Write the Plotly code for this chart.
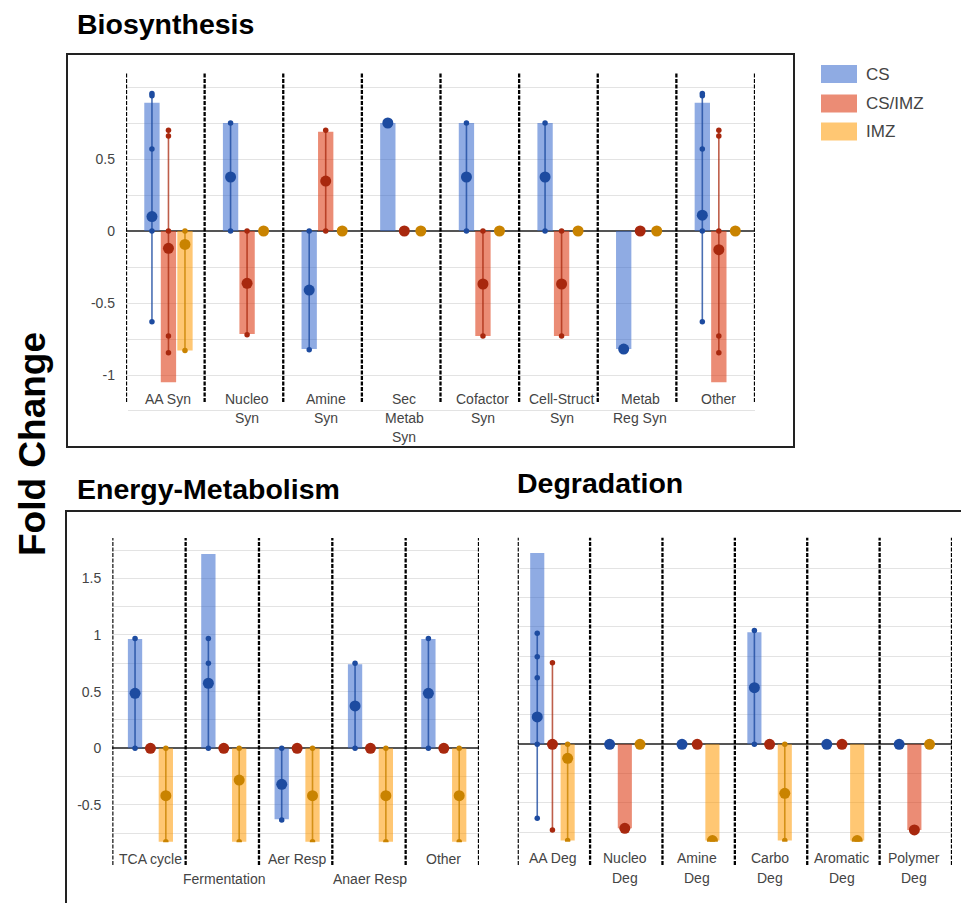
import plotly.graph_objects as go

# ---------------- DATA ----------------
SERIES = ["CS", "CS/IMZ", "IMZ"]

# Biosynthesis
BIO_CATS = ["AA Syn", "Nucleo\nSyn", "Amine\nSyn", "Sec\nMetab\nSyn", "Cofactor\nSyn",
            "Cell-Struct\nSyn", "Metab\nReg Syn", "Other"]
BIO_CS_BAR = [0.89, 0.75, -0.82, 0.75, 0.75, 0.75, -0.82, 0.89]
BIO_CS_MEAN = [0.10, 0.375, -0.41, 0.75, 0.375, 0.375, -0.82, 0.11]
BIO_CS_PTS = [[0.955, 0.94, 0.57, 0, -0.63], [0.75, 0], [0, -0.825], [0.75],
              [0.75, 0], [0.75, 0], [-0.82], [0.955, 0.94, 0.57, 0, -0.63]]
BIO_CSIMZ_BAR = [-1.05, -0.715, 0.69, 0, -0.73, -0.73, 0, -1.05]
BIO_CSIMZ_MEAN = [-0.12, -0.363, 0.347, 0, -0.368, -0.368, 0, -0.13]
BIO_CSIMZ_PTS = [[0.70, 0.66, 0, -0.73, -0.845], [0, -0.72], [0.70, 0], [0],
                 [0, -0.73], [0, -0.73], [0], [0.70, 0.66, 0, -0.73, -0.845]]
BIO_IMZ_BAR = [-0.83, 0, 0, 0, 0, 0, 0, 0]
BIO_IMZ_MEAN = [-0.093, 0, 0, 0, 0, 0, 0, 0]
BIO_IMZ_PTS = [[0, -0.83], [0], [0], [0], [0], [0], [0], [0]]
BIO_TICKVALS = [-1.25, -1.0, -0.75, -0.5, -0.25, 0, 0.25, 0.5, 0.75, 1.0]
BIO_TICKTEXT = ["", "-1", "", "-0.5", "", "0", "", "0.5", "", ""]

# Energy-Metabolism
EN_CATS = ["TCA cycle", "Fermentation", "Aer Resp", "Anaer Resp", "Other"]
EN_CS_BAR = [0.965, 1.715, -0.626, 0.741, 0.965]
EN_CS_MEAN = [0.485, 0.574, -0.318, 0.374, 0.485]
EN_CS_PTS = [[0.97, 0], [0.97, 0.75, 0], [0, -0.632], [0.75, 0], [0.97, 0]]
EN_CSIMZ_BAR = [0, 0, 0, 0, 0]
EN_CSIMZ_MEAN = [0, 0, 0, 0, 0]
EN_CSIMZ_PTS = [[0], [0], [0], [0], [0]]
EN_IMZ_BAR = [-0.825, -0.825, -0.825, -0.825, -0.825]
EN_IMZ_MEAN = [-0.418, -0.28, -0.418, -0.418, -0.418]
EN_IMZ_PTS = [[0, -0.825], [0, -0.825], [0, -0.825], [0, -0.825], [0, -0.825]]
EN_TICKVALS = [-0.75, -0.5, -0.25, 0, 0.25, 0.5, 0.75, 1.0, 1.25, 1.5, 1.75]
EN_TICKTEXT = ["", "-0.5", "", "0", "", "0.5", "", "1", "", "1.5", ""]

# Degradation
DEG_CATS = ["AA Deg", "Nucleo\nDeg", "Amine\nDeg", "Carbo\nDeg", "Aromatic\nDeg", "Polymer\nDeg"]
DEG_CS_BAR = [1.63, 0, 0, 0.955, 0, 0]
DEG_CS_MEAN = [0.233, 0, 0, 0.483, 0, 0]
DEG_CS_PTS = [[0.946, 0.747, 0.568, 0, -0.63], [0], [0], [0.969, 0], [0], [0]]
DEG_CSIMZ_BAR = [0, -0.716, 0, 0, 0, -0.73]
DEG_CSIMZ_MEAN = [0, -0.716, 0, 0, 0, -0.73]
DEG_CSIMZ_PTS = [[0.696, 0, -0.73], [-0.716], [0], [0], [0], [-0.73]]
DEG_IMZ_BAR = [-0.82, 0, -0.82, -0.82, -0.82, 0]
DEG_IMZ_MEAN = [-0.119, 0, -0.82, -0.418, -0.82, 0]
DEG_IMZ_PTS = [[0, -0.82], [0], [-0.82], [0, -0.82], [-0.82], [0]]
DEG_TICKVALS = [-0.75, -0.5, -0.25, 0, 0.25, 0.5, 0.75, 1.0, 1.25, 1.5]
DEG_TICKTEXT = ["", "", "", "", "", "", "", "", "", ""]

# ---------------- STYLE ----------------
W, H = 961, 903
FONT = "Liberation Sans, Arial, sans-serif"
BAR_COLORS = ["rgba(51,102,204,0.55)", "rgba(220,57,18,0.58)", "rgba(255,153,0,0.55)"]
DOT_COLORS = ["#1d4ba0", "#a8280e", "#c98300"]
LINE_COLORS = ["rgba(29,75,160,0.8)", "rgba(168,40,14,0.75)", "rgba(201,131,0,0.8)"]
OFFSETS = [-0.21, 0.0, 0.21]
BAR_W = 0.195
LABEL_SIZE = 14


def pxx(x):
    return x / W


def pyy(y):
    return 1 - y / H


panels = [
    dict(ax="", cats=BIO_CATS,
         bars=[BIO_CS_BAR, BIO_CSIMZ_BAR, BIO_IMZ_BAR],
         means=[BIO_CS_MEAN, BIO_CSIMZ_MEAN, BIO_IMZ_MEAN],
         pts=[BIO_CS_PTS, BIO_CSIMZ_PTS, BIO_IMZ_PTS],
         tv=BIO_TICKVALS, tt=BIO_TICKTEXT,
         xpx=(126, 755), ypx=(73, 412), yr=(-1.2569, 1.0972), shift=0.04,
         dash=(73, 402), label_rows=None, line_y=[399, 418, 437]),
    dict(ax="2", cats=EN_CATS,
         bars=[EN_CS_BAR, EN_CSIMZ_BAR, EN_IMZ_BAR],
         means=[EN_CS_MEAN, EN_CSIMZ_MEAN, EN_IMZ_MEAN],
         pts=[EN_CS_PTS, EN_CSIMZ_PTS, EN_IMZ_PTS],
         tv=EN_TICKVALS, tt=EN_TICKTEXT,
         xpx=(112.3, 479), ypx=(538, 842.3), yr=(-0.8297, 1.856), shift=0.02,
         dash=(538, 865), label_rows=[859, 879], line_y=[859, 879]),
    dict(ax="3", cats=DEG_CATS,
         bars=[DEG_CS_BAR, DEG_CSIMZ_BAR, DEG_IMZ_BAR],
         means=[DEG_CS_MEAN, DEG_CSIMZ_MEAN, DEG_IMZ_MEAN],
         pts=[DEG_CS_PTS, DEG_CSIMZ_PTS, DEG_IMZ_PTS],
         tv=DEG_TICKVALS, tt=DEG_TICKTEXT,
         xpx=(517.7, 952), ypx=(537.7, 841.7), yr=(-0.830, 1.761), shift=-0.02,
         dash=(537.7, 865), label_rows=None, line_y=[858, 878]),
]

fig = go.Figure()
shapes = []
annotations = []

for p in panels:
    xa = "x" + p["ax"]
    ya = "y" + p["ax"]
    n = len(p["cats"])
    # bars
    for k in range(3):
        xs = [i + p["shift"] + OFFSETS[k] for i in range(n)]
        fig.add_trace(go.Bar(x=xs, y=p["bars"][k], width=BAR_W, xaxis=xa, yaxis=ya,
                             marker=dict(color=BAR_COLORS[k], line=dict(width=0)),
                             name=SERIES[k], showlegend=False, hoverinfo="skip"))
    # range lines
    for k in range(3):
        lx, ly = [], []
        for i in range(n):
            pts = p["pts"][k][i]
            if len(pts) > 1:
                xc = i + p["shift"] + OFFSETS[k]
                lx += [xc, xc, None]
                ly += [min(pts), max(pts), None]
        fig.add_trace(go.Scatter(x=lx, y=ly, mode="lines", xaxis=xa, yaxis=ya,
                                 line=dict(color=LINE_COLORS[k], width=1.6),
                                 showlegend=False, hoverinfo="skip"))
    # individual points
    for k in range(3):
        sx, sy = [], []
        for i in range(n):
            for v in p["pts"][k][i]:
                sx.append(i + p["shift"] + OFFSETS[k])
                sy.append(v)
        fig.add_trace(go.Scatter(x=sx, y=sy, mode="markers", xaxis=xa, yaxis=ya,
                                 marker=dict(color=DOT_COLORS[k], size=5.5),
                                 showlegend=False, hoverinfo="skip"))
    # means
    for k in range(3):
        xs = [i + p["shift"] + OFFSETS[k] for i in range(n)]
        fig.add_trace(go.Scatter(x=xs, y=p["means"][k], mode="markers", xaxis=xa, yaxis=ya,
                                 marker=dict(color=DOT_COLORS[k], size=11),
                                 showlegend=False, hoverinfo="skip"))

    x0, x1 = p["xpx"]
    ytop, ybot = p["ypx"]
    fig.update_layout(**{
        "xaxis" + p["ax"]: dict(domain=[pxx(x0), pxx(x1)], range=[-0.5, n - 0.5],
                                showgrid=False, zeroline=False, showticklabels=False,
                                showline=False, fixedrange=True, anchor=ya),
        "yaxis" + p["ax"]: dict(domain=[pyy(ybot), pyy(ytop)], range=list(p["yr"]),
                                tickvals=p["tv"], ticktext=p["tt"], showgrid=True,
                                gridcolor="#e3e3e3", gridwidth=1, zeroline=True,
                                zerolinecolor="#555555", zerolinewidth=1.5,
                                ticks="", ticklabelstandoff=10, showline=False,
                                tickfont=dict(family=FONT, size=LABEL_SIZE, color="#444444"),
                                fixedrange=True, anchor=xa),
    })
    # dashed separators
    d0, d1 = p["dash"]
    for i in range(n + 1):
        shapes.append(dict(type="line", xref=xa, yref="paper",
                           x0=i - 0.5, x1=i - 0.5, y0=pyy(d1), y1=pyy(d0),
                           line=dict(color="#000000", width=2.3, dash="4px,1.5px")))
    # category labels
    for i, cat in enumerate(p["cats"]):
        if p["label_rows"] is not None:
            lines = [cat]
            rows = [p["label_rows"][i % 2]]
        else:
            lines = cat.split("\n")
            rows = p["line_y"][:len(lines)]
        for txt, yy in zip(lines, rows):
            annotations.append(dict(xref=xa, yref="paper", x=i + p["shift"], y=pyy(yy),
                                    text=txt, showarrow=False, xanchor="center",
                                    yanchor="middle",
                                    font=dict(family=FONT, size=LABEL_SIZE, color="#444444")))

# gridline under the top panel's labels
shapes.append(dict(type="line", xref="paper", yref="paper", x0=pxx(128), x1=pxx(755),
                   y0=pyy(410.5), y1=pyy(410.5), line=dict(color="#e3e3e3", width=1)))

# panel boxes
shapes.append(dict(type="rect", xref="paper", yref="paper", x0=pxx(67), x1=pxx(794),
                   y0=pyy(447), y1=pyy(54), line=dict(color="#222222", width=2)))
shapes.append(dict(type="rect", xref="paper", yref="paper", x0=pxx(66), x1=pxx(975),
                   y0=pyy(920), y1=pyy(511), line=dict(color="#222222", width=2)))

# legend
LEG_Y = [74, 103.5, 131.5]
for k in range(3):
    shapes.append(dict(type="rect", xref="paper", yref="paper", x0=pxx(821), x1=pxx(857),
                       y0=pyy(LEG_Y[k] + 9), y1=pyy(LEG_Y[k] - 9),
                       fillcolor=BAR_COLORS[k], line=dict(width=0)))
    annotations.append(dict(xref="paper", yref="paper", x=pxx(864), y=pyy(LEG_Y[k]),
                            text=SERIES[k], showarrow=False, xanchor="left", yanchor="middle",
                            font=dict(family=FONT, size=17, color="#444444")))

# titles
for txt, x, y in [("Biosynthesis", 75, 24), ("Energy-Metabolism", 75, 489),
                  ("Degradation", 515, 483)]:
    annotations.append(dict(xref="paper", yref="paper", x=pxx(x), y=pyy(y), text="<b>" + txt + "</b>",
                            showarrow=False, xanchor="left", yanchor="middle",
                            font=dict(family=FONT, size=28.5, color="#000000")))
annotations.append(dict(xref="paper", yref="paper", x=pxx(32), y=pyy(444), text="<b>Fold Change</b>",
                        textangle=-90, showarrow=False, xanchor="center", yanchor="middle",
                        font=dict(family=FONT, size=37, color="#000000")))

fig.update_layout(width=W, height=H, margin=dict(l=0, r=0, t=0, b=0),
                  paper_bgcolor="white", plot_bgcolor="white", barmode="overlay",
                  showlegend=False, hovermode=False, shapes=shapes, annotations=annotations)

fig.write_html("out.html", config={"displayModeBar": False})
